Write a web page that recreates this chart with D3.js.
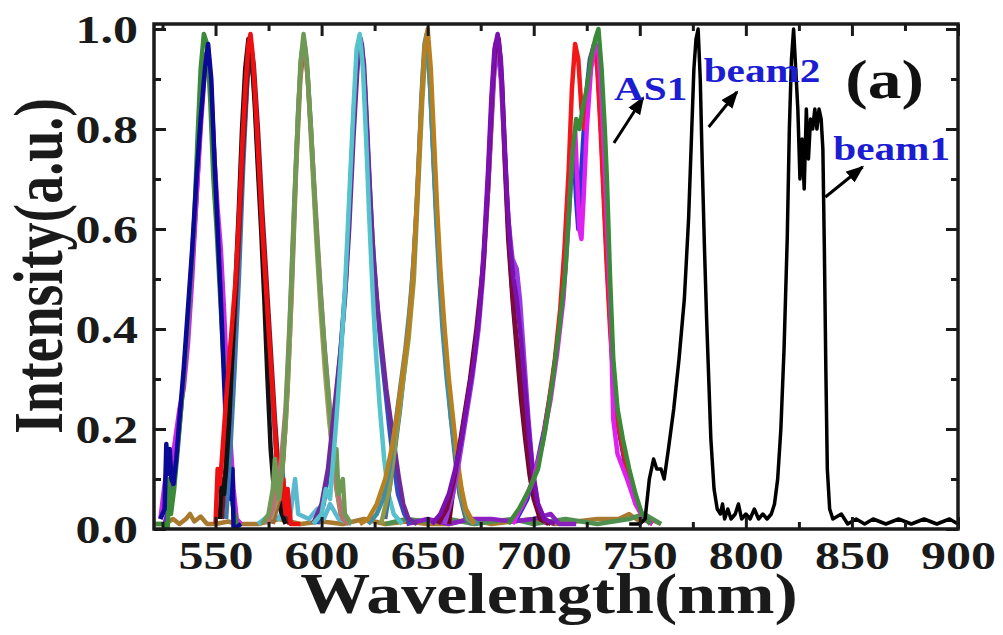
<!DOCTYPE html>
<html>
<head>
<meta charset="utf-8">
<script src="https://cdn.jsdelivr.net/npm/d3@7"></script>
<style>
  html, body { margin: 0; padding: 0; background: #fff; }
  svg { display: block; }
  text { font-family: "Liberation Serif", "Times New Roman", serif; font-weight: bold; }
</style>
</head>
<body>
<svg width="1003" height="635"></svg>
<script>
// tick values
const xTicks = [550, 600, 650, 700, 750, 800, 850, 900];
const xMinor = [525, 575, 625, 675, 725, 775, 825, 875];
const yTicks = [0, 0.2, 0.4, 0.6, 0.8, 1.0];
const yMinor = [0.1, 0.3, 0.5, 0.7, 0.9];

// spectra, [wavelength nm, intensity]
const g1Green = [[522,0.01],[526,0.01],[527.5,0.0],[528,0.1],[529,0.03],[530.5,0.08],[532,0.15],[534,0.25],[536,0.36],[538,0.48],[540,0.62],[541.5,0.78],[543,0.92],[544.5,0.99],[546,0.97],[547.5,0.86],[549,0.7],[550.5,0.6],[552,0.48],[553.5,0.36],[555,0.26],[556.5,0.14],[558,0.05],[560,0.01]];
const g1Navy = [[524,0.02],[526,0.04],[526.8,0.17],[527.6,0.11],[528.4,0.16],[529.2,0.1],[530.2,0.09],[531.5,0.14],[533,0.22],[535,0.32],[537,0.44],[539,0.56],[541,0.7],[543,0.82],[545,0.92],[546.5,0.97],[548,0.9],[549.5,0.74],[551,0.6],[552.5,0.46],[554,0.3],[555,0.2],[555.5,0.08],[556,0.14],[557,0.06],[558,0.12],[558.5,0.0],[562,0.01]];
const g1Magenta = [[524,0.02],[526,0.09],[527.5,0.13],[529,0.12],[531,0.18],[533,0.24],[535,0.28],[537,0.37],[539,0.5],[541,0.66],[543,0.8],[545,0.92],[546.5,0.96],[548,0.88],[549.5,0.74],[551,0.64],[552.5,0.56],[554,0.44],[555.5,0.3],[557,0.18],[558.5,0.08],[560,0.02],[562,0.01]];
const g1Violet = [[526,0.01],[529,0.06],[532,0.16],[535,0.3],[538,0.46],[541,0.66],[543.5,0.86],[545.5,0.95],[547,0.93],[549,0.78],[551,0.6],[553,0.42],[555,0.26],[557,0.1],[559,0.02]];

const g2Red = [[550,0.01],[551,0.12],[552,0.09],[553,0.14],[554,0.2],[555,0.26],[556.5,0.34],[558,0.42],[559.5,0.5],[561,0.62],[562.5,0.76],[564,0.88],[565.5,0.97],[566.5,0.99],[567.5,0.95],[569,0.84],[570.5,0.72],[572,0.6],[573.5,0.5],[575,0.4],[576.5,0.3],[578,0.2],[579,0.12],[580,0.14],[581,0.06],[582,0.1],[583,0.03],[584,0.08],[585.5,0.01],[590,0.01]];
const g2Black = [[552,0.02],[553,0.1],[554,0.07],[555,0.12],[556.5,0.22],[558,0.36],[559.5,0.5],[561,0.64],[562.5,0.8],[564,0.92],[565.5,0.98],[567,0.95],[568.5,0.85],[570,0.72],[571.5,0.6],[573,0.46],[574.5,0.3],[576,0.16],[577.5,0.08],[579,0.1],[580.5,0.04],[583,0.01]];
const g2Maroon = [[553,0.02],[555,0.14],[557,0.28],[559,0.42],[561,0.58],[563,0.76],[565,0.9],[566.5,0.97],[568,0.93],[570,0.8],[572,0.64],[574,0.5],[576,0.36],[578,0.22],[580,0.1],[582,0.03],[585,0.01]];
const g2Steel = [[555,0.02],[557,0.16],[559,0.32],[561,0.5],[563,0.72],[565,0.9],[567,0.95],[568.5,0.86],[570.5,0.7],[572.5,0.56],[574.5,0.42],[576.5,0.28],[578.5,0.16],[580,0.08],[581.5,0.12],[583,0.03],[586,0.01]];

const g3Olive = [[572,0.01],[575,0.03],[577,0.08],[578,0.14],[579,0.09],[580,0.06],[581.5,0.12],[583,0.22],[584.5,0.36],[586,0.52],[588,0.74],[590,0.93],[591.5,0.99],[593,0.94],[595,0.8],[597,0.64],[599,0.5],[601,0.38],[603,0.28],[604.5,0.2],[606,0.12],[607,0.16],[608,0.07],[610,0.1],[611,0.03],[614,0.01]];
const g3Rose = [[574,0.01],[577,0.04],[579,0.08],[581,0.14],[583,0.24],[585,0.42],[587,0.64],[589,0.84],[590.5,0.95],[592,0.97],[593.5,0.9],[595.5,0.76],[597.5,0.62],[599.5,0.48],[601.5,0.36],[603.5,0.26],[605.5,0.16],[607.5,0.08],[610,0.02],[613,0.01]];
const g3Khaki = [[576,0.02],[579,0.06],[581,0.12],[583,0.2],[585,0.38],[587,0.62],[589,0.84],[590.5,0.95],[592,0.97],[593.5,0.9],[595.5,0.74],[597.5,0.58],[599.5,0.44],[601.5,0.32],[603.5,0.22],[605.5,0.14],[607.5,0.07],[610,0.02],[613,0.01]];
const g3Brown = [[577,0.01],[580,0.06],[582,0.14],[584,0.28],[586,0.48],[588,0.72],[590,0.9],[591.5,0.96],[593,0.93],[595,0.8],[597,0.64],[599,0.5],[601,0.38],[603,0.26],[605,0.16],[607,0.08],[609,0.03],[612,0.01]];

const g4Cyan = [[596,0.01],[600,0.03],[602,0.08],[604,0.06],[605.5,0.14],[607,0.22],[609,0.34],[611,0.48],[613,0.66],[615,0.84],[616.5,0.96],[618,0.99],[619.5,0.92],[621,0.78],[622.5,0.62],[624,0.48],[625.5,0.36],[627.5,0.24],[629.5,0.14],[631.5,0.07],[634,0.03],[638,0.01]];
const g4Purple = [[596,0.01],[600,0.05],[603,0.12],[605,0.2],[607,0.28],[609,0.36],[611,0.46],[613,0.6],[615,0.78],[617,0.93],[618.5,0.98],[620,0.93],[621.5,0.8],[623,0.66],[624.5,0.54],[626.5,0.44],[628.5,0.36],[630.5,0.28],[632.5,0.22],[634.5,0.16],[636.5,0.1],[638.5,0.05],[641,0.02],[645,0.01]];
const g4Blue = [[598,0.01],[601,0.05],[604,0.14],[606.5,0.24],[609,0.36],[611.5,0.5],[613.5,0.68],[615.5,0.86],[617.5,0.96],[619,0.97],[620.5,0.88],[622,0.74],[624,0.58],[626,0.46],[628,0.36],[630,0.28],[632,0.2],[634,0.13],[636,0.07],[639,0.03],[642,0.01]];

const g5Teal = [[622,0.01],[626,0.03],[629,0.06],[632,0.12],[634.5,0.2],[637,0.28],[639.5,0.36],[641.5,0.44],[643.5,0.54],[645.5,0.7],[647,0.86],[648.5,0.97],[649.5,0.99],[651,0.9],[652.5,0.76],[654,0.62],[655.5,0.5],[657,0.4],[659,0.3],[661,0.22],[663,0.16],[665,0.1],[667,0.05],[670,0.02],[674,0.01]];
const g5Orange = [[618,0.01],[622,0.02],[626,0.05],[630,0.1],[633,0.16],[636,0.24],[638.5,0.32],[641,0.4],[643,0.5],[645,0.66],[647,0.84],[648.5,0.96],[650,1.0],[651.5,0.92],[653,0.78],[654.5,0.64],[656,0.52],[658,0.4],[660,0.3],[662,0.22],[664,0.14],[666,0.08],[668,0.04],[672,0.01]];
const g5Olive = [[628,0.01],[632,0.08],[635,0.18],[638,0.28],[641,0.38],[643.5,0.5],[645.5,0.68],[647.5,0.86],[649,0.96],[650.5,0.94],[652,0.82],[654,0.64],[656,0.5],[658,0.38],[660,0.28],[662,0.2],[664,0.12],[666,0.06],[669,0.02],[672,0.01]];
const g5Slate = [[630,0.02],[634,0.14],[637,0.24],[640,0.36],[642.5,0.48],[644.5,0.62],[646.5,0.8],[648,0.93],[649.5,0.97],[651,0.9],[653,0.72],[655,0.56],[657,0.44],[659,0.32],[661,0.22],[663,0.14],[665,0.07],[668,0.02],[671,0.01]];

const g6Purple = [[652,0.01],[656,0.03],[660,0.07],[663,0.12],[666,0.18],[669,0.26],[672,0.34],[674.5,0.44],[676.5,0.56],[678.5,0.72],[680,0.86],[681.5,0.96],[683,0.99],[684.5,0.94],[686,0.8],[687.5,0.66],[689,0.56],[690.5,0.5],[692,0.46],[694,0.38],[696,0.28],[698,0.18],[700,0.1],[702,0.05],[705,0.02],[710,0.01]];
const g6Maroon = [[655,0.01],[659,0.04],[662,0.09],[665,0.16],[668,0.24],[671,0.32],[674,0.42],[676.5,0.54],[678.5,0.7],[680.5,0.88],[682,0.97],[683.5,0.98],[685,0.9],[686.5,0.74],[688,0.6],[689.5,0.5],[691,0.42],[693,0.34],[695,0.24],[697,0.16],[699,0.1],[701,0.05],[704,0.02],[708,0.01]];
const g6Violet = [[658,0.01],[662,0.07],[665,0.14],[668,0.22],[671,0.3],[674,0.4],[676,0.5],[678,0.64],[680,0.8],[681.5,0.92],[683,0.96],[684.5,0.9],[686,0.78],[688,0.62],[690,0.54],[692,0.52],[693.5,0.46],[695.5,0.34],[697.5,0.22],[699.5,0.12],[702,0.05],[706,0.01]];
const g6DarkRed = [[660,0.01],[664,0.14],[667,0.22],[670,0.3],[673,0.4],[676,0.52],[678.5,0.68],[680.5,0.86],[682,0.96],[683.5,0.97],[685,0.88],[686.5,0.72],[688,0.58],[690,0.46],[692,0.36],[694,0.26],[696,0.18],[698,0.11],[700,0.06],[703,0.02],[707,0.01]];

const g7Red = [[690,0.02],[695,0.05],[700,0.1],[704,0.17],[707,0.25],[710,0.34],[712.5,0.44],[714.5,0.56],[716.5,0.72],[718,0.88],[719.5,0.97],[721,0.94],[722.5,0.84],[724,0.8],[725.5,0.86],[727,0.94],[728.5,0.97],[730,0.92],[731.5,0.8],[733,0.66],[734.5,0.52],[736,0.4],[737.5,0.3],[739.5,0.22],[742,0.16],[745,0.1],[748,0.05],[752,0.02],[756,0.01]];
const g7Blue = [[692,0.02],[697,0.06],[701,0.12],[705,0.2],[709,0.3],[712.5,0.42],[715,0.55],[717,0.72],[718.5,0.78],[720,0.66],[721,0.6],[722.5,0.72],[724.5,0.86],[726.5,0.94],[728.5,0.97],[730,0.93],[731.5,0.82],[733,0.68],[734.5,0.54],[736,0.42],[737.5,0.3],[740,0.2],[743,0.13],[747,0.07],[751,0.03],[755,0.01]];
const g7Magenta = [[690,0.01],[695,0.05],[700,0.1],[704,0.17],[708,0.26],[711,0.35],[714,0.46],[716.5,0.62],[718,0.74],[719.5,0.8],[720.5,0.7],[721.5,0.6],[722.5,0.58],[723.5,0.66],[725,0.8],[727,0.92],[729,0.97],[730.5,0.96],[732,0.86],[733.5,0.72],[735,0.56],[736.5,0.4],[737,0.3],[737.5,0.22],[739.5,0.15],[744,0.1],[748,0.05],[752,0.02],[756,0.01]];
const g7Green = [[688,0.01],[693,0.04],[698,0.08],[702,0.12],[705.5,0.2],[709,0.3],[712,0.4],[715,0.52],[717,0.66],[718.5,0.76],[720,0.82],[721.5,0.8],[723,0.84],[725,0.88],[727,0.94],[729,0.98],[730.5,1.0],[732,0.92],[733.5,0.8],[734.5,0.7],[736,0.5],[737.5,0.34],[739.5,0.24],[742,0.18],[745,0.12],[748,0.07],[751,0.03],[755,0.01]];

const blackBeams = [[745,0.01],[750,0.01],[752.5,0.02],[754.5,0.1],[756.5,0.14],[758,0.12],[760,0.12],[761.5,0.1],[763.5,0.16],[766,0.24],[768.5,0.34],[771,0.46],[773,0.62],[774.5,0.8],[775.5,0.92],[776.5,0.98],[777.5,1.0],[778.5,0.9],[779.5,0.72],[780.5,0.56],[781.5,0.42],[782.5,0.3],[783.5,0.18],[785,0.08],[786.5,0.04],[788,0.03],[789,0.05],[790,0.02],[791.5,0.04],[793,0.02],[795,0.03],[796.5,0.05],[798,0.02],[800,0.03],[802,0.02],[804,0.04],[806,0.02],[808,0.03],[810,0.02],[812,0.03],[813.5,0.05],[815,0.1],[816.5,0.2],[818,0.36],[819.5,0.58],[820.5,0.8],[821.5,0.94],[822.5,1.0],[823.5,0.92],[824.5,0.84],[825.5,0.7],[826.5,0.78],[827.5,0.68],[828.5,0.84],[829.5,0.74],[830.5,0.82],[831.5,0.8],[832.5,0.84],[833.5,0.8],[834.5,0.84],[835.5,0.82],[836.3,0.76],[837,0.56],[837.7,0.32],[838.4,0.12],[839.5,0.04],[841,0.02],[845,0.03],[848,0.01],[852,0.02],[856,0.01],[860,0.02],[866,0.01],[872,0.02],[878,0.01],[884,0.02],[890,0.01],[896,0.02],[900,0.01]];

// noisy floor under the visible lines
const baseBrown = [[521,0.01],[526,0.01],[530,0.02],[533,0.01],[536,0.02],[538,0.03],[540,0.015],[543,0.025],[546,0.01],[550,0.01],[556,0.015],[560,0.01],[570,0.01],[580,0.02],[590,0.01],[600,0.015],[610,0.01],[620,0.02],[630,0.01],[640,0.015],[650,0.01],[660,0.01],[670,0.02],[680,0.01],[690,0.015],[700,0.02],[710,0.01],[720,0.015],[730,0.02],[740,0.02],[745,0.03],[750,0.015],[755,0.02],[760,0.01]];
const baseCyan = [[570,0.01],[576,0.03],[580,0.02],[583,0.06],[585,0.02],[587.5,0.1],[589,0.03],[594,0.02],[598,0.04],[601,0.02],[604,0.05],[608,0.02],[614,0.01]];
const basePurple = [[640,0.01],[650,0.02],[660,0.01],[670,0.02],[680,0.02],[690,0.015],[700,0.02],[708,0.03],[712,0.01],[720,0.01]];
const baseGreen = [[630,0.01],[640,0.02],[650,0.015],[660,0.02],[672,0.01],[690,0.02],[700,0.01],[715,0.02],[730,0.01],[745,0.02],[752,0.03],[760,0.01]];

const series = [
  { data: baseBrown, color: "#a87a30" },
  { data: baseGreen, color: "#4f8f4f" },
  { data: basePurple, color: "#8a20c0" },
  { data: baseCyan, color: "#5ab8d0" },
  { data: g1Violet, color: "#6a1fd0" },
  { data: g1Magenta, color: "#c828e8" },
  { data: g1Green, color: "#3a8a3a" },
  { data: g1Navy, color: "#0a0a96" },
  { data: g2Steel, color: "#3d78b0" },
  { data: g2Maroon, color: "#7a1a28" },
  { data: g2Black, color: "#111111" },
  { data: g2Red, color: "#ee1010" },
  { data: g3Brown, color: "#9a6a3a" },
  { data: g3Khaki, color: "#a89a5c" },
  { data: g3Rose, color: "#b87272" },
  { data: g3Olive, color: "#6f9a55" },
  { data: g4Blue, color: "#3050c0" },
  { data: g4Purple, color: "#6e2a9a" },
  { data: g4Cyan, color: "#55c2cc" },
  { data: g5Slate, color: "#4a6f8a" },
  { data: g5Olive, color: "#8e9a4a" },
  { data: g5Teal, color: "#3f8ea6" },
  { data: g5Orange, color: "#b8801e" },
  { data: g6DarkRed, color: "#6a0a20" },
  { data: g6Violet, color: "#9a3ae6" },
  { data: g6Maroon, color: "#7c0a3c" },
  { data: g6Purple, color: "#7a10b0" },
  { data: g7Blue, color: "#2438d8" },
  { data: g7Red, color: "#f01818" },
  { data: g7Magenta, color: "#e020f0" },
  { data: g7Green, color: "#3a8a3a" },
  { data: blackBeams, color: "#000000" }
];

// annotations in data units
const labels = [
  { text: "AS1", at: [737.8, 0.858] },
  { text: "beam2", at: [780.1, 0.894] },
  { text: "beam1", at: [841.2, 0.738] }
];
const arrows = [
  { from: [737.8, 0.772], to: [751.5, 0.862] },
  { from: [782.5, 0.804], to: [795.8, 0.874] },
  { from: [837.5, 0.664], to: [855.0, 0.724] }
];
const panelTag = { text: "(a)", at: [846.9, 0.862] };

const SX = 1.25; // the figure is stretched sideways

function drawChart() {
  const svg = d3.select("svg");
  const left = 154, right = 958, top = 24, bottom = 529;

  const x = d3.scaleLinear().domain([521, 900]).range([left, right]);
  const y = d3.scaleLinear().domain([0, 1.01]).range([bottom, top]);

  const plot = svg.append("g");
  plot.append("clipPath").attr("id", "clip")
    .append("rect").attr("x", left).attr("y", top - 2)
    .attr("width", right - left).attr("height", bottom - top + 2);

  const line = d3.line().x(d => x(d[0])).y(d => y(d[1]));

  plot.append("g").attr("clip-path", "url(#clip)")
    .selectAll("path").data(series).join("path")
    .attr("d", d => line(d.data))
    .attr("fill", "none")
    .attr("stroke", d => d.color)
    .attr("stroke-width", d => d.data === blackBeams ? 3.5 : 4.5)
    .attr("stroke-linejoin", "round");

  // inward ticks on all four sides
  const ink = "#1a1a1a";
  const axes = [
    [d3.axisBottom(x).tickValues(xTicks).tickSize(-12), `translate(0,${bottom})`],
    [d3.axisBottom(x).tickValues(xMinor).tickSize(-7).tickFormat(""), `translate(0,${bottom})`],
    [d3.axisTop(x).tickValues(xTicks).tickSize(-12).tickFormat(""), `translate(0,${top})`],
    [d3.axisTop(x).tickValues(xMinor).tickSize(-7).tickFormat(""), `translate(0,${top})`],
    [d3.axisLeft(y).tickValues(yTicks).tickSize(-12).tickFormat(d3.format(".1f")), `translate(${left},0)`],
    [d3.axisLeft(y).tickValues(yMinor).tickSize(-7).tickFormat(""), `translate(${left},0)`],
    [d3.axisRight(y).tickValues(yTicks).tickSize(-12).tickFormat(""), `translate(${right},0)`],
    [d3.axisRight(y).tickValues(yMinor).tickSize(-7).tickFormat(""), `translate(${right},0)`]
  ];
  const gs = axes.map(([ax, tr]) => svg.append("g").attr("transform", tr).call(ax));
  gs.forEach(g => {
    g.select(".domain").remove();
    g.selectAll("line").attr("stroke", ink).attr("stroke-width", 3);
  });

  gs[0].selectAll("text")
    .attr("y", 40).attr("dy", 0)
    .attr("fill", ink).attr("font-size", 40)
    .attr("font-family", "Liberation Serif").attr("font-weight", "bold")
    .attr("transform", `scale(${SX},1)`);
  gs[4].selectAll("text")
    .attr("x", -16 / SX).attr("dy", "0.34em")
    .attr("fill", ink).attr("font-size", 40)
    .attr("font-family", "Liberation Serif").attr("font-weight", "bold")
    .attr("transform", `scale(${SX},1)`);

  // frame
  svg.append("rect")
    .attr("x", left).attr("y", top)
    .attr("width", right - left).attr("height", bottom - top)
    .attr("fill", "none").attr("stroke", ink).attr("stroke-width", 3.5);

  // axis titles
  svg.append("text")
    .attr("transform", `translate(${(left + right) / 2 - 7},613) scale(${SX},1)`)
    .attr("text-anchor", "middle").attr("font-size", 56).attr("fill", ink)
    .text("Wavelength(nm)");
  svg.append("text")
    .attr("transform", `translate(62,266) scale(${SX},1) rotate(-90)`)
    .attr("text-anchor", "middle").attr("font-size", 56).attr("fill", ink)
    .text("Intensity(a.u.)");

  // arrows and labels
  svg.append("defs").append("marker")
    .attr("id", "head").attr("markerUnits", "userSpaceOnUse")
    .attr("markerWidth", 18).attr("markerHeight", 14)
    .attr("refX", 16).attr("refY", 7).attr("orient", "auto")
    .append("path").attr("d", "M0,0 L18,7 L0,14 Z").attr("fill", "#000");

  svg.selectAll(".arrow").data(arrows).join("line")
    .attr("class", "arrow")
    .attr("x1", d => x(d.from[0])).attr("y1", d => y(d.from[1]))
    .attr("x2", d => x(d.to[0])).attr("y2", d => y(d.to[1]))
    .attr("stroke", "#000").attr("stroke-width", 3)
    .attr("marker-end", "url(#head)");

  svg.selectAll(".lbl").data(labels).join("text")
    .attr("class", "lbl")
    .attr("transform", d => `translate(${x(d.at[0])},${y(d.at[1])}) scale(${SX},1)`)
    .attr("font-size", 33).attr("fill", "#1c1cd2")
    .text(d => d.text);

  svg.append("text")
    .attr("transform", `translate(${x(panelTag.at[0])},${y(panelTag.at[1])}) scale(${SX},1)`)
    .attr("font-size", 54).attr("fill", "#111")
    .text(panelTag.text);
}

drawChart();
</script>
</body>
</html>
